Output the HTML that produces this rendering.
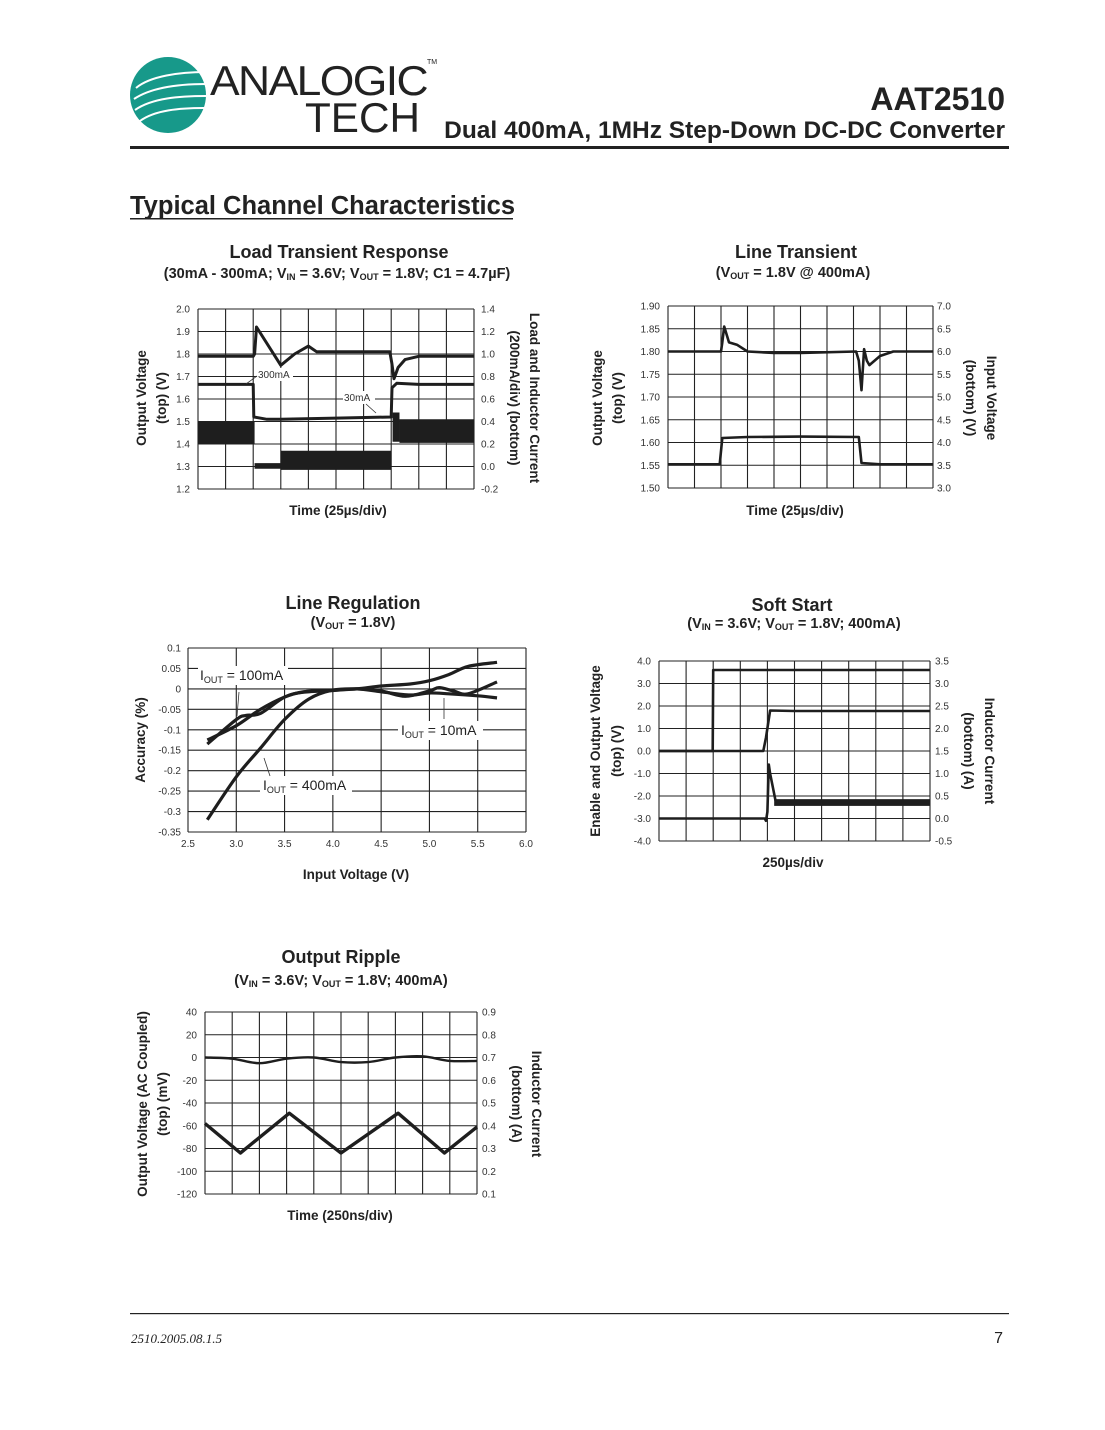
<!DOCTYPE html>
<html><head><meta charset="utf-8"><title>AAT2510 Typical Channel Characteristics</title>
<style>
html,body{margin:0;padding:0;background:#fff;}
svg{display:block;font-family:"Liberation Sans",Arial,sans-serif;}
.t{font-size:10px;fill:#333;}
.ct{font-size:18px;font-weight:bold;fill:#222;}
.cs{font-size:14.5px;font-weight:bold;fill:#222;}
.al{font-size:13.5px;font-weight:bold;fill:#222;}
.an{font-size:12px;fill:#222;}
</style></head>
<body>
<svg id="page" width="1105" height="1430" viewBox="0 0 1105 1430" xmlns="http://www.w3.org/2000/svg">
<g>
  <circle cx="168" cy="95" r="38" fill="#17998a"/>
  <path d="M136 88 C150 76,180 72,206 72 M134 99 C152 87,180 84,206 84 M135 110 C152 98,180 96,206 96 M140 121 C155 110,180 108,204 108" stroke="#fff" stroke-width="2" fill="none"/>
  <text x="210" y="95" font-size="42" fill="#222" letter-spacing="-1.5" textLength="217" lengthAdjust="spacingAndGlyphs">ANALOGIC</text>
  <text x="427" y="64" font-size="7" fill="#222">TM</text>
  <text x="305" y="132" font-size="42" fill="#222" textLength="115" lengthAdjust="spacingAndGlyphs">TECH</text>
</g>
<text x="1005" y="110" text-anchor="end" font-size="32" font-weight="bold" fill="#222">AAT2510</text>
<text x="1005" y="138" text-anchor="end" font-size="24.5" font-weight="bold" fill="#222">Dual 400mA, 1MHz Step-Down DC-DC Converter</text>
<rect x="130" y="146" width="879" height="3" fill="#222"/>
<text x="130" y="214" font-size="25.5" font-weight="bold" fill="#222">Typical Channel Characteristics</text>
<rect x="130" y="218" width="383" height="1.5" fill="#222"/>

<text class="ct" x="339" y="258" text-anchor="middle">Load Transient Response</text>
<text class="cs" x="337" y="278" text-anchor="middle">(30mA - 300mA; V<tspan font-size="9" dy="2">IN</tspan><tspan dy="-2"> = 3.6V; V</tspan><tspan font-size="9" dy="2">OUT</tspan><tspan dy="-2"> = 1.8V; C1 = 4.7µF)</tspan></text>
<text class="ct" x="796" y="258" text-anchor="middle">Line Transient</text>
<text class="cs" x="793" y="277" text-anchor="middle">(V<tspan font-size="9" dy="2">OUT</tspan><tspan dy="-2"> = 1.8V @ 400mA)</tspan></text>
<text class="ct" x="353" y="609" text-anchor="middle">Line Regulation</text>
<text class="cs" x="353" y="627" text-anchor="middle">(V<tspan font-size="9" dy="2">OUT</tspan><tspan dy="-2"> = 1.8V)</tspan></text>
<text class="ct" x="792" y="611" text-anchor="middle">Soft Start</text>
<text class="cs" x="794" y="628" text-anchor="middle">(V<tspan font-size="9" dy="2">IN</tspan><tspan dy="-2"> = 3.6V; V</tspan><tspan font-size="9" dy="2">OUT</tspan><tspan dy="-2"> = 1.8V; 400mA)</tspan></text>
<text class="ct" x="341" y="963" text-anchor="middle">Output Ripple</text>
<text class="cs" x="341" y="985" text-anchor="middle">(V<tspan font-size="9" dy="2">IN</tspan><tspan dy="-2"> = 3.6V; V</tspan><tspan font-size="9" dy="2">OUT</tspan><tspan dy="-2"> = 1.8V; 400mA)</tspan></text>

<text class="al" x="338" y="515" text-anchor="middle">Time (25µs/div)</text>
<text class="al" text-anchor="middle" transform="translate(146,398) rotate(-90)">Output Voltage</text>
<text class="al" text-anchor="middle" transform="translate(166,398) rotate(-90)">(top) (V)</text>
<text class="al" text-anchor="middle" transform="translate(530,398) rotate(90)">Load and Inductor Current</text>
<text class="al" text-anchor="middle" transform="translate(510,398) rotate(90)">(200mA/div) (bottom)</text>

<text class="al" x="795" y="515" text-anchor="middle">Time (25µs/div)</text>
<text class="al" text-anchor="middle" transform="translate(602,398) rotate(-90)">Output Voltage</text>
<text class="al" text-anchor="middle" transform="translate(622,398) rotate(-90)">(top) (V)</text>
<text class="al" text-anchor="middle" transform="translate(987,398) rotate(90)">Input Voltage</text>
<text class="al" text-anchor="middle" transform="translate(966,398) rotate(90)">(bottom) (V)</text>

<text class="al" x="356" y="879" text-anchor="middle">Input Voltage (V)</text>
<text class="al" text-anchor="middle" transform="translate(145,740) rotate(-90)">Accuracy (%)</text>

<text class="al" x="793" y="867" text-anchor="middle">250µs/div</text>
<text class="al" text-anchor="middle" transform="translate(600,751) rotate(-90)">Enable and Output Voltage</text>
<text class="al" text-anchor="middle" transform="translate(621,751) rotate(-90)">(top) (V)</text>
<text class="al" text-anchor="middle" transform="translate(985,751) rotate(90)">Inductor Current</text>
<text class="al" text-anchor="middle" transform="translate(964,751) rotate(90)">(bottom) (A)</text>

<text class="al" x="340" y="1220" text-anchor="middle">Time (250ns/div)</text>
<text class="al" text-anchor="middle" transform="translate(147,1104) rotate(-90)">Output Voltage (AC Coupled)</text>
<text class="al" text-anchor="middle" transform="translate(167,1104) rotate(-90)">(top) (mV)</text>
<text class="al" text-anchor="middle" transform="translate(532,1104) rotate(90)">Inductor Current</text>
<text class="al" text-anchor="middle" transform="translate(512,1104) rotate(90)">(bottom) (A)</text>

<g id="charts"></g>

<rect x="130" y="1313" width="879" height="1.2" fill="#222"/>
<text x="131" y="1343" font-family="Liberation Serif,serif" font-style="italic" font-size="13" fill="#222">2510.2005.08.1.5</text>
<text x="1003" y="1343" text-anchor="end" font-size="16" fill="#222">7</text>
</svg>
<script>
const ltVoutX = [0,2.0,2.05,2.12,3.0,3.5,4.0,4.3,5,6,6.95,7.02,7.1,7.25,7.5,8,10];
const ltVoutY = [1.79,1.79,1.80,1.92,1.75,1.80,1.835,1.81,1.81,1.81,1.81,1.76,1.69,1.74,1.775,1.79,1.79];
const ltLoadX = [0,2.0,2.02,2.5,3,5,7.0,7.03,7.2,8,10];
const ltLoadY = [0.73,0.73,0.44,0.42,0.42,0.43,0.44,0.70,0.74,0.73,0.73];
const ltIndX0 = [0,2.05,3.0,7.05,7.3];
const ltIndX1 = [2.05,3.0,7.0,7.3,10];
const ltIndLo = [0.20,-0.02,-0.03,0.22,0.21];
const ltIndHi = [0.40,0.03,0.14,0.48,0.42];
const lnVoutX = [0,2.0,2.05,2.12,2.3,2.6,3.0,4,5,7.1,7.2,7.3,7.4,7.5,7.6,8.0,8.5,10];
const lnVoutY = [1.80,1.80,1.82,1.855,1.82,1.815,1.80,1.797,1.797,1.80,1.78,1.715,1.805,1.78,1.77,1.79,1.80,1.80];
const lnVinX = [0,1.95,2.05,3,5,7.2,7.3,8,10];
const lnVinY = [3.52,3.52,4.1,4.12,4.13,4.12,3.55,3.52,3.52];
const lrX10 = [2.7,3.0,3.25,3.5,3.7,4.0,4.25,4.5,4.8,5.0,5.2,5.4,5.7];
const lr10 = [-0.125,-0.09,-0.05,-0.02,-0.007,-0.003,0,0.007,0.012,0.02,0.035,0.055,0.065];
const lrX100 = [2.7,3.0,3.1,3.25,3.5,3.7,4.0,4.25,4.5,4.8,5.0,5.2,5.5,5.7];
const lr100 = [-0.135,-0.075,-0.065,-0.06,-0.02,-0.008,-0.004,0,-0.007,-0.015,-0.01,-0.012,-0.017,-0.022];
const lrX400 = [2.7,3.0,3.25,3.5,3.75,4.0,4.25,4.5,4.75,5.0,5.1,5.25,5.4,5.7];
const lr400 = [-0.32,-0.215,-0.145,-0.075,-0.025,-0.003,0,-0.005,-0.018,-0.005,0.003,-0.005,-0.012,0.017];
const lrXTicks = ["2.5","3.0","3.5","4.0","4.5","5.0","5.5","6.0"];
const lrYTicks = ["0.1","0.05","0","-0.05","-0.1","-0.15","-0.2","-0.25","-0.3","-0.35"];
const ssEnX = [0,1.98,2.0,10];
const ssEn = [0.0,0.0,3.6,3.6];
const ssOutX = [0,3.85,3.95,4.1,5,10];
const ssOut = [0.0,0.0,0.6,1.8,1.78,1.78];
const ssIlX = [0,3.9,3.95,4.0,4.05,4.1,4.3];
const ssIl = [0.0,0.0,-0.05,0.15,1.2,1.0,0.4];
const ssBandX0 = [4.25];
const ssBandX1 = [10];
const ssBandLo = [0.28];
const ssBandHi = [0.43];
const orVX = [0,1,2,3,4,5,6,7,8,9,10];
const orV = [0,-1,-5,-1,0,-4,-4,0,1,-3,-3];
const orIX = [0,1.3,3.1,5.0,7.1,8.8,10];
const orI = [0.41,0.28,0.455,0.28,0.455,0.28,0.395];
const ltLeftTicks = ["2.0","1.9","1.8","1.7","1.6","1.5","1.4","1.3","1.2"];
const ltRightTicks = ["1.4","1.2","1.0","0.8","0.6","0.4","0.2","0.0","-0.2"];
const lnLeftTicks = ["1.90","1.85","1.80","1.75","1.70","1.65","1.60","1.55","1.50"];
const lnRightTicks = ["7.0","6.5","6.0","5.5","5.0","4.5","4.0","3.5","3.0"];
const ssLeftTicks = ["4.0","3.0","2.0","1.0","0.0","-1.0","-2.0","-3.0","-4.0"];
const ssRightTicks = ["3.5","3.0","2.5","2.0","1.5","1.0","0.5","0.0","-0.5"];
const orLeftTicks = ["40","20","0","-20","-40","-60","-80","-100","-120"];
const orRightTicks = ["0.9","0.8","0.7","0.6","0.5","0.4","0.3","0.2","0.1"];

const NS = "http://www.w3.org/2000/svg";
const root = document.getElementById('charts');
function mk(tag, attrs, parent, name) {
  const el = document.createElementNS(NS, tag);
  for (const k in attrs) el.setAttribute(k, attrs[k]);
  
  
  (parent || root).appendChild(el);
  return el;
}
function scale(d0, d1, p0, p1) { return v => p0 + (v - d0) / (d1 - d0) * (p1 - p0); }
function frame(id, x0, y0, x1, y1, nx, ny) {
  const g = mk('g', {}, root, id + '-plot');
  for (let i = 0; i <= nx; i++) {
    const x = x0 + (x1 - x0) * i / nx;
    mk('line', {x1: x, y1: y0, x2: x, y2: y1, stroke: '#222', 'stroke-width': 1.1}, g, id + '-vgrid');
  }
  for (let j = 0; j <= ny; j++) {
    const y = y0 + (y1 - y0) * j / ny;
    mk('line', {x1: x0, y1: y, x2: x1, y2: y, stroke: '#222', 'stroke-width': 1.1}, g, id + '-hgrid');
  }
  return g;
}
function ticksY(id, labels, x, y0, y1, anchor) {
  labels.forEach((t, i) => {
    const y = y0 + (y1 - y0) * i / (labels.length - 1);
    const el = mk('text', {x: x, y: y + 3.5, 'text-anchor': anchor, class: 't'}, root, id + '-tick');
    el.textContent = t;
  });
}
function line(id, xs, ys, sx, sy, w) {
  const d = xs.map((v, i) => (i ? 'L' : 'M') + sx(v).toFixed(1) + ' ' + sy(ys[i]).toFixed(1)).join(' ');
  mk('path', {d: d, fill: 'none', stroke: '#1e1e1e', 'stroke-width': w, 'stroke-linejoin': 'round'}, root, id);
}
function smooth(id, xs, ys, sx, sy, w) {
  const P = xs.map((v, i) => [sx(v), sy(ys[i])]);
  let d = 'M' + P[0][0] + ' ' + P[0][1];
  for (let i = 0; i < P.length - 1; i++) {
    const p0 = P[i - 1] || P[i], p1 = P[i], p2 = P[i + 1], p3 = P[i + 2] || p2;
    const c1 = [p1[0] + (p2[0] - p0[0]) / 6, p1[1] + (p2[1] - p0[1]) / 6];
    const c2 = [p2[0] - (p3[0] - p1[0]) / 6, p2[1] - (p3[1] - p1[1]) / 6];
    d += ' C' + c1.join(' ') + ' ' + c2.join(' ') + ' ' + p2.join(' ');
  }
  mk('path', {d: d, fill: 'none', stroke: '#1e1e1e', 'stroke-width': w}, root, id);
}
function bands(id, x0s, x1s, los, his, sx, sy) {
  x0s.forEach((x0, i) => {
    const a = sx(x0), b = sx(x1s[i]), t = sy(his[i]), u = sy(los[i]);
    mk('rect', {x: a, y: Math.min(t, u), width: b - a, height: Math.abs(u - t), fill: '#1e1e1e'}, root, id);
  });
}

{
  const X0 = 198, X1 = 474, Y0 = 309, Y1 = 489;
  frame('load-transient', X0, Y0, X1, Y1, 10, 8);
  const sx = scale(0, 10, X0, X1), syL = scale(2.0, 1.2, Y0, Y1), syR = scale(1.4, -0.2, Y0, Y1);
  ticksY('load-transient-left', ltLeftTicks, 190, Y0, Y1, 'end');
  ticksY('load-transient-right', ltRightTicks, 481, Y0, Y1, 'start');
  bands('load-transient-inductor-current', ltIndX0, ltIndX1, ltIndLo, ltIndHi, sx, syR);
  line('load-transient-output-voltage', ltVoutX, ltVoutY, sx, syL, 3);
  line('load-transient-load-current', ltLoadX, ltLoadY, sx, syR, 3);
}
{
  const X0 = 668, X1 = 933, Y0 = 306, Y1 = 488;
  frame('line-transient', X0, Y0, X1, Y1, 10, 8);
  const sx = scale(0, 10, X0, X1), syL = scale(1.9, 1.5, Y0, Y1), syR = scale(7, 3, Y0, Y1);
  ticksY('line-transient-left', lnLeftTicks, 660, Y0, Y1, 'end');
  ticksY('line-transient-right', lnRightTicks, 937, Y0, Y1, 'start');
  line('line-transient-output-voltage', lnVoutX, lnVoutY, sx, syL, 2.6);
  line('line-transient-input-voltage', lnVinX, lnVinY, sx, syR, 2.6);
}
{
  const X0 = 188, X1 = 526, Y0 = 648, Y1 = 832;
  frame('line-regulation', X0, Y0, X1, Y1, 7, 9);
  const sx = scale(2.5, 6.0, X0, X1), sy = scale(0.1, -0.35, Y0, Y1);
  ticksY('line-regulation-y', lrYTicks, 181, Y0, Y1, 'end');
  lrXTicks.forEach((t, i) => {
    const el = mk('text', {x: sx(2.5 + 0.5 * i), y: 847, 'text-anchor': 'middle', class: 't'}, root, 'line-regulation-x-tick');
    el.textContent = t;
  });
  smooth('line-regulation-10ma', lrX10, lr10, sx, sy, 3.2);
  smooth('line-regulation-100ma', lrX100, lr100, sx, sy, 3.2);
  smooth('line-regulation-400ma', lrX400, lr400, sx, sy, 3.2);
}
{
  const X0 = 659, X1 = 930, Y0 = 661, Y1 = 841;
  frame('soft-start', X0, Y0, X1, Y1, 10, 8);
  const sx = scale(0, 10, X0, X1), syL = scale(4, -4, Y0, Y1), syR = scale(3.5, -0.5, Y0, Y1);
  ticksY('soft-start-left', ssLeftTicks, 651, Y0, Y1, 'end');
  ticksY('soft-start-right', ssRightTicks, 935, Y0, Y1, 'start');
  line('soft-start-enable', ssEnX, ssEn, sx, syL, 2.6);
  line('soft-start-output-voltage', ssOutX, ssOut, sx, syL, 2.6);
  line('soft-start-inductor-current', ssIlX, ssIl, sx, syR, 2.6);
  bands('soft-start-inductor-band', ssBandX0, ssBandX1, ssBandLo, ssBandHi, sx, syR);
}
{
  const X0 = 205, X1 = 477, Y0 = 1012, Y1 = 1194;
  frame('output-ripple', X0, Y0, X1, Y1, 10, 8);
  const sx = scale(0, 10, X0, X1), syL = scale(40, -120, Y0, Y1), syR = scale(0.9, 0.1, Y0, Y1);
  ticksY('output-ripple-left', orLeftTicks, 197, Y0, Y1, 'end');
  ticksY('output-ripple-right', orRightTicks, 482, Y0, Y1, 'start');
  smooth('output-ripple-voltage', orVX, orV, sx, syL, 2.4);
  line('output-ripple-inductor-current', orIX, orI, sx, syR, 3.4);
}
</script>
<svg style="position:absolute;left:0;top:0" width="1105" height="1430">
  <g font-family="Liberation Sans,Arial,sans-serif">
    <rect x="257" y="368" width="36" height="13" fill="#fff"/>
    <text x="258" y="378" font-size="10" fill="#333">300mA</text>
    <line x1="257" y1="376" x2="246" y2="384" stroke="#333" stroke-width="0.8"/>
    <rect x="343" y="391" width="32" height="13" fill="#fff"/>
    <text x="344" y="401" font-size="10" fill="#333">30mA</text>
    <line x1="366" y1="404" x2="376" y2="413" stroke="#333" stroke-width="0.8"/>
    <rect x="198" y="666" width="90" height="19" fill="#fff"/>
    <text x="200" y="680" font-size="14" fill="#222">I<tspan font-size="9" dy="3">OUT</tspan><tspan dy="-3"> = 100mA</tspan></text>
    <line x1="239" y1="692" x2="237" y2="716" stroke="#333" stroke-width="0.8"/>
    <rect x="398" y="721" width="85" height="19" fill="#fff"/>
    <text x="401" y="735" font-size="14" fill="#222">I<tspan font-size="9" dy="3">OUT</tspan><tspan dy="-3"> = 10mA</tspan></text>
    <line x1="444" y1="719" x2="444" y2="698" stroke="#333" stroke-width="0.8"/>
    <rect x="260" y="776" width="92" height="19" fill="#fff"/>
    <text x="263" y="790" font-size="14" fill="#222">I<tspan font-size="9" dy="3">OUT</tspan><tspan dy="-3"> = 400mA</tspan></text>
    <line x1="264" y1="758" x2="270" y2="776" stroke="#333" stroke-width="0.8"/>
  </g>
</svg>
</body></html>
